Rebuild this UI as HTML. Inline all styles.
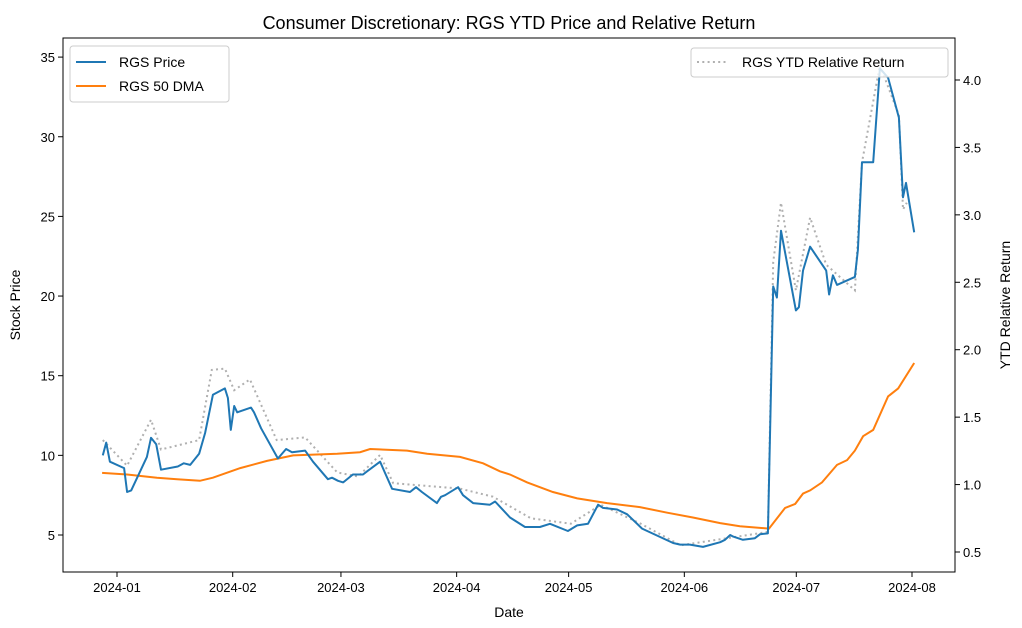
<!DOCTYPE html>
<html><head><meta charset="utf-8">
<style>
body{margin:0;background:#fff;}
svg{display:block;font-family:"Liberation Sans","DejaVu Sans",sans-serif;}
</style></head>
<body>
<svg id="chart" width="1022" height="628" viewBox="0 0 1022 628"></svg>
<script>
// Data: day offsets from 2024-01-01
const priceDays=[-3.8,-2.9,-1.9,1.9,2.7,3.8,8.0,9.1,10.5,11.8,16.3,17.9,19.6,22.0,23.6,25.7,28.9,29.7,30.5,31.4,32.2,35.9,36.7,38.6,43.1,45.3,46.9,50.4,52.5,56.5,57.6,59.2,60.6,63.2,65.9,67.0,70.5,71.8,73.7,78.5,80.1,81.7,85.7,86.8,87.9,91.4,92.7,95.4,99.9,101.3,105.3,109.3,113.3,116.0,120.8,123.3,126.2,128.9,130.2,134.0,136.7,140.7,149.0,150.9,153.5,157.0,161.6,162.9,164.3,165.1,167.7,170.9,172.3,174.4,175.8,176.8,177.9,181.9,182.7,183.8,185.7,190.0,190.8,191.8,192.9,197.7,198.5,199.6,202.6,204.4,206.6,209.5,210.6,211.4,213.6];
const priceVals=[10.0,10.8,9.6,9.2,7.7,7.8,9.9,11.1,10.7,9.1,9.3,9.5,9.4,10.1,11.4,13.8,14.2,13.6,11.6,13.1,12.7,13.0,12.7,11.7,9.8,10.4,10.2,10.3,9.6,8.5,8.6,8.4,8.3,8.8,8.8,9.0,9.6,8.9,7.9,7.7,8.0,7.7,7.0,7.4,7.5,8.0,7.5,7.0,6.9,7.1,6.1,5.5,5.5,5.7,5.25,5.6,5.7,6.9,6.7,6.6,6.3,5.4,4.5,4.4,4.4,4.25,4.55,4.7,5.0,4.9,4.7,4.8,5.05,5.1,20.6,19.9,24.1,19.1,19.3,21.6,23.1,21.6,20.1,21.3,20.7,21.2,22.9,28.4,28.4,34.3,33.7,31.2,26.2,27.1,24.0];
const dmaDays=[-4.0,2.7,10.7,16.1,22.2,25.7,33.0,40.2,47.2,59.0,65.1,67.8,77.7,83.1,91.9,98.1,102.6,105.3,109.9,116.8,123.3,131.3,140.1,147.4,154.3,161.6,166.9,174.7,179,181.7,183.8,185.7,188.9,192.9,195.6,197.7,199.9,202.6,206.6,209.3,213.6];
const dmaVals=[8.9,8.8,8.6,8.5,8.4,8.6,9.2,9.65,10.0,10.1,10.2,10.4,10.3,10.1,9.9,9.5,9.0,8.8,8.3,7.7,7.3,7.0,6.75,6.4,6.1,5.75,5.55,5.4,6.7,6.95,7.6,7.8,8.3,9.4,9.7,10.3,11.2,11.6,13.7,14.2,15.8];
const rrDays=[-3.8,2.7,9.1,11.8,22.0,25.4,28.9,31.4,35.6,42.8,50.4,59.0,64.6,70.5,74.0,91.9,100.7,110.9,121.6,129.6,140.3,151.0,172.4,174.4,175.8,177.9,181.9,185.7,190.0,197.7,199.6,204.4,209.5,210.6,211.6];
const rrVals=[1.33,1.14,1.48,1.26,1.33,1.85,1.86,1.70,1.78,1.33,1.35,1.09,1.06,1.22,1.01,0.97,0.91,0.75,0.71,0.85,0.71,0.55,0.64,0.65,2.65,3.09,2.44,2.98,2.63,2.44,3.39,4.11,3.74,3.04,3.09];
const xMonths=["2024-01","2024-02","2024-03","2024-04","2024-05","2024-06","2024-07","2024-08"];
const xMonthDays=[0,31,60,91,121,152,182,213];
const yTicks=[5,10,15,20,25,30,35];
const y2Ticks=[0.5,1.0,1.5,2.0,2.5,3.0,3.5,4.0];

const L=63,R=955,T=38,B=572;
const X=d=>117+d*(795/213);
const Y=p=>535-(p-5)*15.93;
const Y2=v=>552-(v-0.5)*134.86;
const svg=document.getElementById('chart');
const NS='http://www.w3.org/2000/svg';
function mk(tag,attrs,parent){const e=document.createElementNS(NS,tag);for(const k in attrs)e.setAttribute(k,attrs[k]);(parent||svg).appendChild(e);return e;}

const title=mk('text',{x:509,y:29,'text-anchor':'middle','font-size':18,fill:'#000'});
title.textContent='Consumer Discretionary: RGS YTD Price and Relative Return';



function line(xs,ys,fx,fy,attrs,name){
  const pts=xs.map((d,i)=>fx(d).toFixed(1)+','+fy(ys[i]).toFixed(1)).join(' ');
  const p=mk('polyline',Object.assign({points:pts,fill:'none'},attrs));
  
  
}
line(rrDays,rrVals,X,Y2,{stroke:'#b0b0b0','stroke-width':2,'stroke-dasharray':'2,3.3'},'relative-return-line');
line(dmaDays,dmaVals,X,Y,{stroke:'#ff7f0e','stroke-width':2}, 'dma-line');
line(priceDays,priceVals,X,Y,{stroke:'#1f77b4','stroke-width':2,'stroke-linejoin':'round'},'price-line');

const frame=mk('rect',{x:L,y:T,width:R-L,height:B-T,fill:'none',stroke:'#000','stroke-width':1});



xMonths.forEach((m,i)=>{
  const x=X(xMonthDays[i]);
  mk('line',{x1:x,x2:x,y1:B,y2:B+5,stroke:'#000'});
  const t=mk('text',{x:x,y:B+20,'text-anchor':'middle','font-size':13});
  t.textContent=m;
  
  
});
yTicks.forEach(v=>{
  const y=Y(v);
  mk('line',{x1:L-5,x2:L,y1:y,y2:y,stroke:'#000'});
  const t=mk('text',{x:L-8,y:y+5,'text-anchor':'end','font-size':13});
  t.textContent=v;
  
  
});
y2Ticks.forEach(v=>{
  const y=Y2(v);
  mk('line',{x1:R,x2:R+5,y1:y,y2:y,stroke:'#000'});
  const t=mk('text',{x:R+8,y:y+5,'text-anchor':'start','font-size':13});
  t.textContent=v.toFixed(1);
  
  
});
const xl=mk('text',{x:509,y:617,'text-anchor':'middle','font-size':14});
xl.textContent='Date';


const yl=mk('text',{x:20,y:305,'text-anchor':'middle','font-size':14,transform:'rotate(-90 20 305)'});
yl.textContent='Stock Price';


const y2l=mk('text',{x:1010,y:305,'text-anchor':'middle','font-size':14,transform:'rotate(-90 1010 305)'});
y2l.textContent='YTD Relative Return';



// legends
const lg=mk('g',{});


mk('rect',{x:70,y:46,width:159,height:56,rx:3,fill:'#fff','fill-opacity':0.8,stroke:'#ccc'},lg);
mk('line',{x1:76,x2:106,y1:62,y2:62,stroke:'#1f77b4','stroke-width':2},lg);
const l1=mk('text',{x:119,y:67,'font-size':14},lg);l1.textContent='RGS Price';


mk('line',{x1:76,x2:106,y1:86,y2:86,stroke:'#ff7f0e','stroke-width':2},lg);
const l2=mk('text',{x:119,y:91,'font-size':14},lg);l2.textContent='RGS 50 DMA';



const lg2=mk('g',{});


mk('rect',{x:691,y:48,width:257,height:29,rx:3,fill:'#fff','fill-opacity':0.8,stroke:'#ccc'},lg2);
mk('line',{x1:697,x2:727,y1:62,y2:62,stroke:'#b0b0b0','stroke-width':2,'stroke-dasharray':'2,3.3'},lg2);
const l3=mk('text',{x:742,y:67,'font-size':14},lg2);l3.textContent='RGS YTD Relative Return';


</script>
</body></html>
